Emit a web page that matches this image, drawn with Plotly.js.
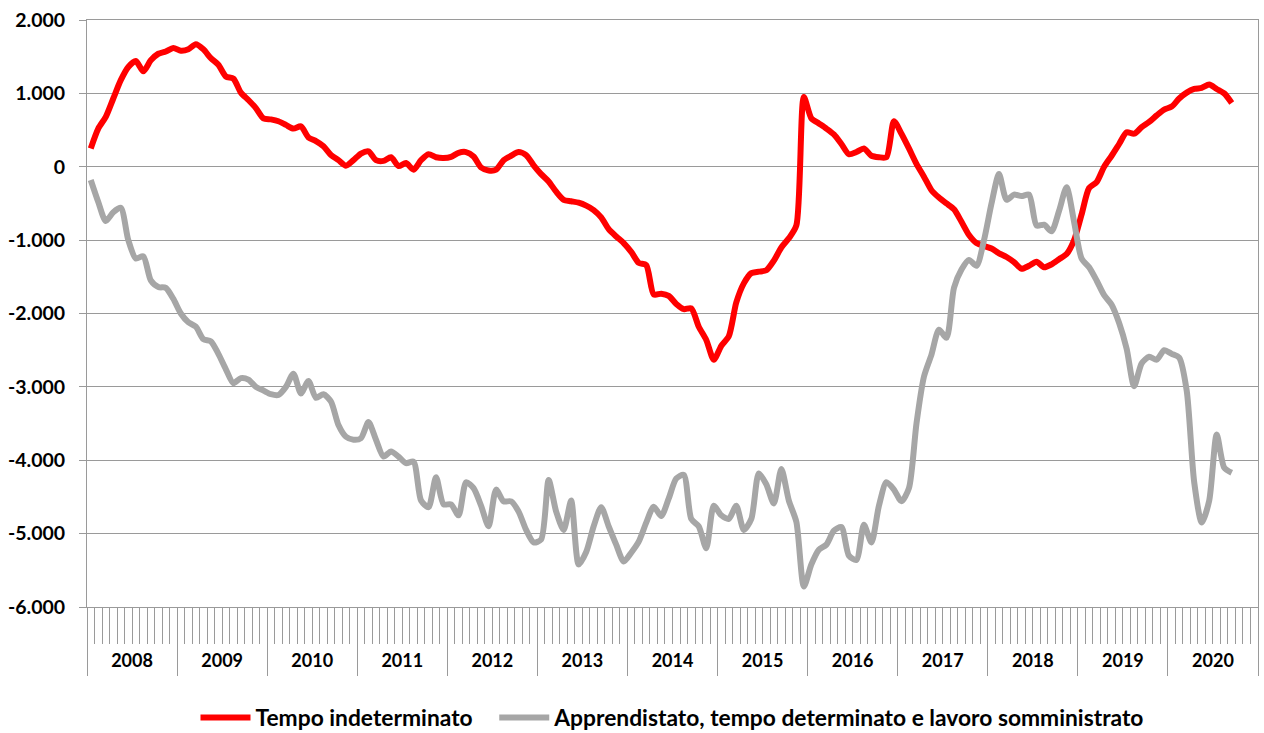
<!DOCTYPE html>
<html>
<head>
<meta charset="utf-8">
<script src="https://cdn.plot.ly/plotly-3.0.1.min.js"></script>
<style>html,body{margin:0;padding:0;background:#fff;}#chart{width:1264px;height:733px;}</style>
</head>
<body>
<div id="chart"></div>
<script>
// Category labels
var years = ["2008","2009","2010","2011","2012","2013","2014","2015","2016","2017","2018","2019","2020"];
var monthsPerYear = 12;
var seriesNames = ["Tempo indeterminato", "Apprendistato, tempo determinato e lavoro somministrato"];

// Series values (monthly, Jan 2008 - Sep 2020)
var tempoIndeterminato = [
  250, 520, 680, 930, 1180, 1360, 1440, 1300, 1450, 1540, 1570, 1620,
  1580, 1600, 1670, 1600, 1480, 1390, 1230, 1200, 1010, 910, 800, 660,
  645, 620, 570, 520, 550, 400, 350, 280, 160, 90, 15, 90,
  180, 210, 90, 80, 130, 10, 50, -40, 90, 170, 130, 120,
  135, 190, 200, 140, -10, -50, -40, 90, 150, 200, 160, 20,
  -100, -200, -340, -450, -470, -490, -530, -590, -690, -850, -950, -1040,
  -1160, -1310, -1340, -1740, -1730, -1760, -1870, -1940, -1930, -2180, -2360, -2630,
  -2440, -2310, -1850, -1590, -1450, -1430, -1410, -1280, -1100, -975, -800, 950,
  660, 590, 520, 440, 310, 170, 200, 250, 150, 130, 130, 620,
  450, 250, 40, -135, -320, -420, -500, -580, -750, -930, -1040, -1080,
  -1115, -1180, -1230, -1300, -1390, -1350, -1295, -1370, -1330, -1260, -1190, -1000,
  -650, -290, -210, 0, 150, 310, 470, 450, 540, 610, 700, 780,
  820, 930, 1010, 1060, 1075, 1120, 1060, 1000, 870
];
var apprendistatoDeterminato = [
  -180, -480, -740, -620, -560, -1000, -1250, -1220, -1550, -1640, -1650, -1800,
  -2000, -2120, -2180, -2350, -2380, -2550, -2760, -2950, -2880, -2900, -3000, -3050,
  -3100, -3110, -3000, -2820, -3090, -2920, -3150, -3100, -3200, -3520, -3680, -3720,
  -3700, -3480, -3720, -3950, -3880, -3950, -4040, -4020, -4550, -4640, -4230, -4600,
  -4600, -4750, -4300, -4380, -4620, -4900, -4400, -4560, -4560, -4700, -4950, -5120,
  -5080, -4270, -4700, -4950, -4550, -5420, -5250, -4900, -4640, -4900, -5150, -5380,
  -5260, -5110, -4850, -4632, -4760, -4520, -4250, -4200, -4800, -4900, -5200, -4620,
  -4750, -4800, -4620, -4950, -4800, -4180, -4330, -4590, -4120, -4550, -4840, -5720,
  -5420, -5220, -5150, -4960, -4910, -5300, -5360, -4880, -5120, -4620, -4300, -4400,
  -4560, -4380, -3500, -2860, -2560, -2220, -2330, -1650, -1400, -1270, -1350, -1000,
  -500, -100, -450, -380, -400, -380, -800, -790, -880, -600, -280, -750,
  -1250, -1370, -1550, -1750, -1880, -2130, -2480, -2990, -2680, -2590, -2630, -2500,
  -2550, -2600, -3050, -4300, -4850, -4550, -3650, -4100, -4170
];

// Y tick values
var yTicks = [2000, 1000, 0, -1000, -2000, -3000, -4000, -5000, -6000];

function fmt(v) {
  var s = Math.abs(v).toString().replace(/\B(?=(\d{3})+(?!\d))/g, ".");
  return (v < 0 ? "-" : "") + s;
}

var xIdxRed = tempoIndeterminato.map(function (v, i) { return i; });
var xIdxGray = apprendistatoDeterminato.map(function (v, i) { return i; });
var nCats = years.length * monthsPerYear;
var yearCenters = years.map(function (y, k) { return k * monthsPerYear + (monthsPerYear - 1) / 2; });

var fontFam = "Lato, 'Open Sans', sans-serif";
var legendGap = "\u00A0\u00A0\u00A0";

var traces = [
  {
    x: xIdxRed, y: tempoIndeterminato, type: "scatter", mode: "lines",
    name: seriesNames[0] + legendGap,
    line: { color: "#FF0000", width: 6, shape: "spline", smoothing: 0.7 },
    hoverinfo: "skip"
  },
  {
    x: xIdxGray, y: apprendistatoDeterminato, type: "scatter", mode: "lines",
    name: seriesNames[1],
    line: { color: "#A6A6A6", width: 6, shape: "spline", smoothing: 0.7 },
    hoverinfo: "skip"
  },
  {
    x: yearCenters, y: yearCenters.map(function () { return null; }), xaxis: "x2",
    type: "scatter", mode: "lines", showlegend: false, hoverinfo: "skip"
  }
];

var gridCol = "#9a9a9a";

var layout = {
  width: 1264, height: 733,
  margin: { l: 87, r: 6, t: 20, b: 126, autoexpand: false },
  paper_bgcolor: "#ffffff", plot_bgcolor: "#ffffff",
  font: { family: fontFam, color: "#000000" },
  showlegend: true,
  legend: {
    orientation: "h", x: 0.5, xanchor: "center",
    yref: "container", y: 0.021, yanchor: "middle",
    font: { family: fontFam, size: 22.8, weight: "bold", color: "#000" },
    itemwidth: 50, traceorder: "normal"
  },
  xaxis: {
    range: [-0.5, nCats - 0.5],
    tickmode: "linear", tick0: -0.5, dtick: monthsPerYear,
    ticks: "outside", ticklen: 68, tickcolor: gridCol, tickwidth: 1,
    showticklabels: false, showgrid: false, zeroline: false,
    showline: true, linecolor: gridCol, linewidth: 1, mirror: true,
    minor: { tickmode: "linear", tick0: -0.5, dtick: 1, ticks: "outside", ticklen: 36, tickcolor: gridCol, tickwidth: 1, showgrid: false },
    fixedrange: true
  },
  xaxis2: {
    overlaying: "x", anchor: "y", side: "bottom",
    range: [-0.5, nCats - 0.5],
    tickmode: "array", tickvals: yearCenters, ticktext: years,
    ticks: "", showline: false, showgrid: false, zeroline: false,
    ticklabelstandoff: 41,
    tickfont: { family: fontFam, size: 18, weight: "bold", color: "#000" },
    fixedrange: true
  },
  yaxis: {
    range: [-6000, 2000],
    tickmode: "array", tickvals: yTicks, ticktext: yTicks.map(fmt),
    ticks: "outside", ticklen: 7, tickcolor: gridCol, tickwidth: 1,
    showgrid: true, gridcolor: gridCol, gridwidth: 1, zeroline: false,
    showline: true, linecolor: gridCol, linewidth: 1, mirror: true,
    ticklabelstandoff: 10,
    tickfont: { family: fontFam, size: 19.5, weight: "bold", color: "#000" },
    fixedrange: true
  }
};

Plotly.newPlot("chart", traces, layout, { displayModeBar: false, staticPlot: true });
</script>
</body>
</html>
